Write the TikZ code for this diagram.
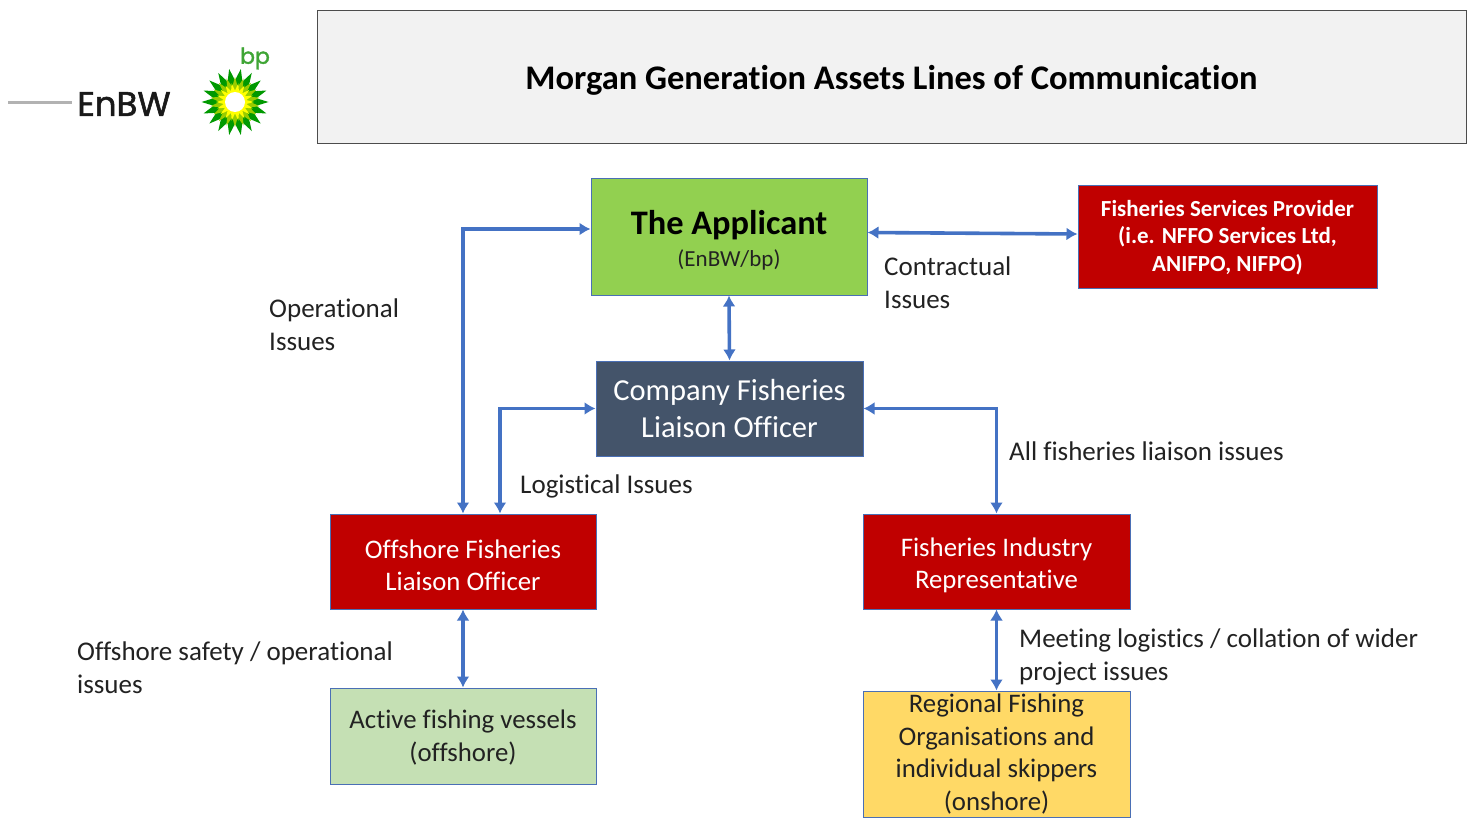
\documentclass[tikz,border=0pt]{standalone}
\usepackage{fontspec}
\setmainfont[Ligatures=NoCommon]{Carlito}
\newfontfamily\logofont[FakeBold=1.6]{Poppins}
\usetikzlibrary{arrows.meta,calc}
\definecolor{linkblue}{HTML}{4472C4}
\definecolor{boxedge}{HTML}{4A6FB5}
\definecolor{redbox}{HTML}{C00000}
\definecolor{greenbox}{HTML}{92D050}
\definecolor{slatebox}{HTML}{44546A}
\definecolor{palegreen}{HTML}{C5E0B4}
\definecolor{yellowbox}{HTML}{FFD966}
\definecolor{titlefill}{HTML}{F2F2F2}
\definecolor{bpdark}{HTML}{009900}
\definecolor{bplight}{HTML}{99CC00}
\definecolor{bpyellow}{HTML}{FFFF00}
\definecolor{bptext}{HTML}{3FA535}
\definecolor{inktext}{HTML}{222222}
\newcommand{\fs}[1]{\fontsize{#1}{#1}\selectfont}
\newcommand{\topup}[1]{\rule{0pt}{#1pt}}
\tikzset{
  x=1pt,y=-1pt,
  box/.style={draw=boxedge,line width=1pt,align=center,inner sep=0pt,anchor=center,text=inktext},
  redb/.style={box,fill=redbox,text=white},
  lab/.style={anchor=north west,align=left,inner sep=0pt,font=\fs{27},text=inktext},
  link/.style={draw=linkblue,line width=3.6pt,{Latex[length=11pt,width=13pt]}-{Latex[length=11pt,width=13pt]}},
}
\begin{document}
\begin{tikzpicture}
\useasboundingbox (0,0) rectangle (1467,832);
\fill[white] (0,0) rectangle (1467,832);
% logos
\coordinate (greyA) at (8,103);
\node[inner sep=0pt,font=\logofont\fs{34},text=black!90] (enbw) at (124,104) {EnBW};
\draw[black!30,line width=3pt,shorten >=5pt] (greyA) -- (enbw.west |- greyA);
\node[inner sep=0pt,font=\logofont\fs{22},text=bptext] (bp) at (255,58.5) {bp};
\begin{scope}[shift={(235,102)}]
\fill[bpdark] (0,0) circle (22);
\foreach \a in {0,20,...,340}{\fill[bpdark] (\a-11:21) -- (\a:33.5) -- (\a+11:21) -- cycle;}
\fill[bplight] (0,0) circle (16);
\foreach \a in {10,30,...,350}{\fill[bplight] (\a-11:15) -- (\a:25) -- (\a+11:15) -- cycle;}
\fill[bpyellow] (0,0) circle (12);
\foreach \a in {0,20,...,340}{\fill[bpyellow] (\a-11:11) -- (\a:19) -- (\a+11:11) -- cycle;}
\fill[white] (0,0) circle (10);
\end{scope}
% boxes
\node[draw=black!70,line width=1pt,fill=titlefill,minimum width=1149pt,minimum height=133pt,inner sep=0pt,text=black,font=\fs{34.5}\bfseries] (title) at (891.5,77.5) {\topup{29}Morgan Generation Assets Lines of Communication};
\node[box,fill=greenbox,minimum width=276pt,minimum height=117pt] (app) at (729,236.5) {{\topup{31}\fs{34.4}\bfseries\color{black} The Applicant}\\[9pt]{\fs{23}(EnBW/bp)}};
\node[box,fill=slatebox,text=white,minimum width=267pt,minimum height=95pt,font=\fs{30.5}] (cflo) at (729.5,408.5) {Company Fisheries\\[7pt]Liaison Officer};
\node[redb,minimum width=299pt,minimum height=103pt,font=\fs{23}\bfseries] (fsp) at (1227.5,236.5) {\topup{18}Fisheries Services Provider\\[4.5pt](i.e. NFFO Services Ltd,\\[4.5pt]ANIFPO, NIFPO)};
\node[redb,minimum width=266pt,minimum height=95pt,font=\fs{26.8}] (oflo) at (463,561.5) {\topup{26}Offshore Fisheries\\[5pt]Liaison Officer};
\node[redb,minimum width=267pt,minimum height=95pt,font=\fs{26.8}] (fir) at (996.5,561.5) {\topup{27}Fisheries Industry\\[5pt]Representative};
\node[box,fill=palegreen,minimum width=266pt,minimum height=96pt,font=\fs{26.8}] (afv) at (463,736) {\topup{22}Active fishing vessels\\[6pt](offshore)};
\node[box,fill=yellowbox,minimum width=267pt,minimum height=126pt,font=\fs{26.8}] (rfo) at (996.5,754) {Regional Fishing\\[5.7pt]Organisations and\\[5.7pt]individual skippers\\[5.7pt](onshore)};
% labels
\node[lab] (l1) at (269,298.5) {Operational\\[6pt]Issues};
\node[lab] (l2) at (884,256.5) {Contractual\\[6pt]Issues};
\node[lab] (l3) at (520,474.5) {Logistical Issues};
\node[lab] (l4) at (1009,441.5) {All fisheries liaison issues};
\node[lab] (l5) at (77,641.5) {Offshore safety / operational\\[6pt]issues};
\node[lab] (l6) at (1019,628.5) {Meeting logistics / collation of wider\\[6pt]project issues};
% connectors
\draw[link] (oflo.north) |- ([yshift=7.5pt]app.west);
\draw[link] ([xshift=37pt]oflo.north) |- (cflo.west);
\draw[link] (fir.north) |- (cflo.east);
\draw[link] ([yshift=4pt]app.east) -- ([yshift=2.5pt]fsp.west);
\draw[link] (app.south) -- (cflo.north);
\draw[link] (oflo.south) -- (afv.north);
\draw[link] (fir.south) -- (rfo.north);
\end{tikzpicture}
\end{document}
